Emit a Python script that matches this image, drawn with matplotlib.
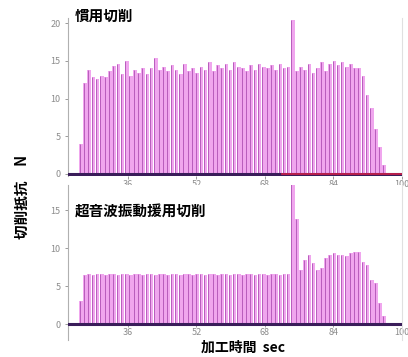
import numpy as np
import matplotlib
matplotlib.use("Agg")
import matplotlib.pyplot as plt

plt.rcParams['font.family'] = ['Noto Sans CJK JP', 'DejaVu Sans']

# pulse timing (sec)
t_start = 24.6
period = 0.97

# peak cutting force per pulse (N)
conv_peaks = [4.0, 12.0, 13.8, 12.8, 12.6, 13.0, 12.8, 13.6, 14.3, 14.6,
              13.2, 15.0, 13.0, 13.8, 13.4, 14.0, 13.2, 14.0, 15.4, 13.8,
              14.2, 13.6, 14.4, 13.8, 13.2, 14.6, 13.6, 14.0, 13.4, 14.2,
              13.8, 14.8, 13.6, 14.4, 14.0, 14.6, 13.8, 14.8, 14.2, 14.0,
              13.6, 14.4, 13.8, 14.6, 14.2, 14.0, 14.4, 13.8, 14.6, 14.0,
              14.2, 20.5, 13.6, 14.2, 13.8, 14.6, 13.4, 14.0, 14.8, 13.6,
              14.6, 15.0, 14.4, 14.8, 14.2, 14.6, 14.0, 14.0, 13.0, 10.5,
              8.8, 6.0, 3.5, 1.2]

ultra_peaks = [3.0, 6.4, 6.6, 6.5, 6.6, 6.6, 6.5, 6.6, 6.6, 6.5,
               6.6, 6.6, 6.5, 6.6, 6.6, 6.5, 6.6, 6.6, 6.5, 6.6,
               6.6, 6.5, 6.6, 6.6, 6.5, 6.6, 6.6, 6.5, 6.6, 6.6,
               6.5, 6.6, 6.6, 6.5, 6.6, 6.6, 6.5, 6.6, 6.6, 6.5,
               6.6, 6.6, 6.5, 6.6, 6.6, 6.5, 6.6, 6.6, 6.5, 6.6,
               6.6, 18.5, 13.8, 7.1, 8.4, 9.1, 8.0, 7.1, 7.4, 8.7,
               9.1, 9.3, 9.1, 9.1, 8.9, 9.3, 9.5, 9.5, 8.2, 7.8,
               5.8, 5.4, 2.8, 1.1]

titles = ['慣用切削', '超音波振動援用切削']
xticks = [36, 52, 68, 84, 100]

fill_c = '#f0a6ee'
line_c = '#b85cbc'
grey = '#8c8c8c'

fig = plt.figure(figsize=(4.08, 3.57), dpi=100)
ax1 = fig.add_axes([68/408, 181/357, 334/408, 158/357])
ax2 = fig.add_axes([68/408, 17/357, 334/408, 155/357])


def draw_panel(ax, peaks, ylim, yticks):
    t = t_start + period * np.arange(len(peaks))
    ax.bar(t, peaks, width=0.86, align='edge', color=fill_c, lw=0, zorder=1)
    ax.vlines(t + 0.12, 0, peaks, color=line_c, lw=0.7, zorder=2)
    ax.axhline(0, color='#3a1d5a', lw=2.2, zorder=3)
    ax.set_xlim(22, 100)
    ax.set_ylim(*ylim)
    ax.set_xticks(xticks)
    ax.set_yticks(yticks)
    for s in ['top', 'bottom']:
        ax.spines[s].set_visible(False)
    ax.spines['left'].set_color('#b0b0b0')
    ax.spines['right'].set_color('#e0e0e0')
    ax.tick_params(colors=grey, labelsize=6.5, length=2, width=0.6)
    ax.tick_params(axis='x', pad=1)


draw_panel(ax1, conv_peaks, (-0.3, 20.7), [0, 5, 10, 15, 20])
ax1.plot([72, 100], [0, 0], color='#d0204a', lw=1.2, zorder=4)

draw_panel(ax2, ultra_peaks, (-2.1, 18.3), [0, 5, 10, 15])
ax2.spines['bottom'].set_position(('data', 0))

fig.text(75/408, 1 - 16/357, titles[0], fontsize=10.5, fontweight='bold',
         va='center', ha='left')
fig.text(75/408, 1 - 212/357, titles[1], fontsize=10.5, fontweight='bold',
         va='center', ha='left')
fig.text(22/408, 1 - 197/357, '切削抵抗　N', fontsize=10.5, fontweight='bold',
         rotation=90, va='center', ha='center')
fig.text(243/408, 1 - 348/357, '加工時間  sec', fontsize=10, fontweight='bold',
         va='center', ha='center')

fig.savefig('out.png', dpi=100)
